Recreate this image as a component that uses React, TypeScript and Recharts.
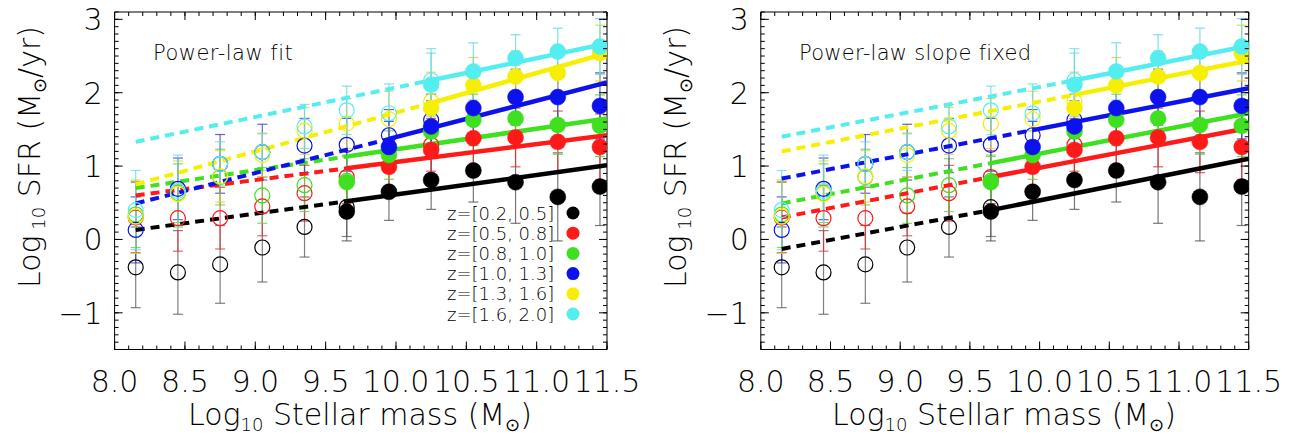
import { ScatterChart, Scatter, XAxis, YAxis, ErrorBar } from "recharts"

const _ = null

// stellar mass bins (log10 M)
const masses = [8.15, 8.45, 8.75, 9.05, 9.35, 9.65, 9.95, 10.25, 10.55, 10.85, 11.15, 11.45]
const xTickLabels = [8.0, 8.5, 9.0, 9.5, 10.0, 10.5, 11.0, 11.5]
const yTickLabels = [-1, 0, 1, 2, 3]

const zBins = ["z=[0.2, 0.5]", "z=[0.5, 0.8]", "z=[0.8, 1.0]", "z=[1.0, 1.3]", "z=[1.3, 1.6]", "z=[1.6, 2.0]"]
const binColors = ["#000000", "#ff1a1a", "#3ee020", "#0c12ee", "#f6ef00", "#55eef0"]
const errColors = ["#555555", "#e03030", "#5ccc40", "#3030d0", "#d8d030", "#60d8e0"]

// log SFR, open symbols (incomplete bins) / filled symbols
const openZ1 = [-0.38, -0.45, -0.34, -0.11, 0.17, 0.44, _, _, _, _, _, _]
const filledZ1 = [_, _, _, _, _, 0.38, 0.65, 0.81, 0.94, 0.78, 0.58, 0.72]
const errZ1 = [0.55, 0.57, 0.53, 0.47, 0.41, 0.4, 0.39, 0.4, 0.43, 0.56, 0.6, 0.53]

const openZ2 = [0.3, 0.29, 0.29, 0.45, 0.63, 0.85, _, 1.29, _, _, _, _]
const filledZ2 = [_, _, _, _, _, _, 0.99, 1.22, 1.38, 1.39, 1.33, 1.26]
const errZ2 = [0.48, 0.45, 0.42, 0.4, 0.38, 0.36, 0.35, 0.36, 0.38, 0.4, 0.42, 0.45]

const openZ3 = [0.34, 0.63, 0.85, 0.6, 0.74, 0.8, _, _, _, _, _, _]
const filledZ3 = [_, _, _, _, _, 0.78, 1.15, 1.47, 1.63, 1.65, 1.56, 1.55]
const errZ3 = [0.45, 0.4, 0.38, 0.38, 0.36, 0.35, 0.33, 0.33, 0.35, 0.37, 0.4, 0.42]

const openZ4 = [0.13, 0.69, 1.03, 1.19, 1.28, 1.29, 1.42, 1.63, _, _, _, _]
const filledZ4 = [_, _, _, _, _, _, 1.26, 1.54, 1.79, 1.94, 1.94, 1.82]
const errZ4 = [0.45, 0.42, 0.4, 0.38, 0.37, 0.36, 0.35, 0.35, 0.36, 0.38, 0.4, 0.45]

const openZ5 = [0.31, 0.62, 0.86, 1.15, 1.48, 1.58, 1.64, 1.88, _, _, _, _]
const filledZ5 = [_, _, _, _, _, _, _, 1.79, 2.1, 2.22, 2.27, 2.54]
const errZ5 = [0.5, 0.45, 0.35, 0.3, 0.32, 0.34, 0.38, 0.4, 0.38, 0.35, 0.35, 0.38]

const openZ6 = [0.4, 0.66, 1.03, 1.19, 1.54, 1.76, 1.72, 2.17, _, _, _, _]
const filledZ6 = [_, _, _, _, _, _, _, 2.11, 2.29, 2.47, 2.56, 2.63]
const errZ6 = [0.54, 0.49, 0.3, 0.25, 0.3, 0.33, 0.4, 0.43, 0.39, 0.32, 0.32, 0.38]

// fitted relations: dashed from fitStartMass to break, solid from break to fitEndMass
const fitStartMass = 8.15
const fitEndMass = 11.5
const fitBreakMass = [9.65, 9.65, 9.65, 9.95, 10.25, 10.25]
const freeFitStart = [0.13, 0.6, 0.7, 0.49, 0.75, 1.33]
const freeFitBreak = [0.52, 0.97, 1.13, 1.37, 1.86, 2.17]
const freeFitEnd = [1.01, 1.42, 1.65, 2.14, 2.54, 2.67]
const fixedFitStart = [-0.13, 0.3, 0.49, 0.83, 1.2, 1.4]
const fixedFitBreak = [0.4, 0.85, 1.04, 1.49, 1.97, 2.17]
const fixedFitEnd = [1.1, 1.52, 1.72, 2.06, 2.44, 2.64]

const openSets = [openZ1, openZ2, openZ3, openZ4, openZ5, openZ6]
const filledSets = [filledZ1, filledZ2, filledZ3, filledZ4, filledZ5, filledZ6]
const errSets = [errZ1, errZ2, errZ3, errZ4, errZ5, errZ6]

const FONT = "'DejaVu Sans', sans-serif"
const WEIGHT = 300
const INK = "#000000"
const H = 436
const PLOT_TOP = 12
const PLOT_BOTTOM = 349.5
const AX = 1 // thickness reserved per axis (axes with zero size are not drawn)

const xMinor = Array.from({ length: 36 }, (_v, i) => Math.round((8 + i * 0.1) * 10) / 10)
const yMinor = Array.from({ length: 47 }, (_v, i) => Math.round((-1.5 + i * 0.1) * 10) / 10)

function points(vals: (number | null)[], errs: number[]) {
  return masses
    .map((x, i) => ({ x, y: vals[i], err: errs[i] }))
    .filter((d) => d.y !== null)
}

const bottomMajor = (p: any) => (
  <g>
    <line x1={p.x} x2={p.x} y1={p.y} y2={p.y - 8} stroke={INK} />
    <text x={p.x} y={p.y + 42.5} textAnchor="middle" fontSize={30} fontWeight={WEIGHT} fontFamily={FONT} fill={INK}>
      {Number(p.payload.value).toFixed(1)}
    </text>
  </g>
)
const bottomMinor = (p: any) => <line x1={p.x} x2={p.x} y1={p.y - AX} y2={p.y - AX - 4} stroke={INK} />
const topMajor = (p: any) => <line x1={p.x} x2={p.x} y1={p.y} y2={p.y + 8} stroke={INK} />
const topMinor = (p: any) => <line x1={p.x} x2={p.x} y1={p.y + AX} y2={p.y + AX + 4} stroke={INK} />
const leftMajor = (p: any) => (
  <g>
    <line x1={p.x} x2={p.x + 8} y1={p.y} y2={p.y} stroke={INK} />
    <text x={p.x - 12} y={p.y + 11} textAnchor="end" fontSize={30} fontWeight={WEIGHT} fontFamily={FONT} fill={INK}>
      {p.payload.value < 0 ? `\u2212${Math.abs(p.payload.value)}` : p.payload.value}
    </text>
  </g>
)
const leftMinor = (p: any) => <line x1={p.x + AX} x2={p.x + AX + 4} y1={p.y} y2={p.y} stroke={INK} />
const rightMajor = (p: any) => <line x1={p.x} x2={p.x - 8} y1={p.y} y2={p.y} stroke={INK} />
const rightMinor = (p: any) => <line x1={p.x - AX} x2={p.x - AX - 4} y1={p.y} y2={p.y} stroke={INK} />

const noShape = () => <g />

interface PanelProps {
  width: number
  plotLeft: number
  plotRight: number
  fitStart: number[]
  fitBreak: number[]
  fitEnd: number[]
}

function Panel({ width, plotLeft, plotRight, fitStart, fitBreak, fitEnd }: PanelProps) {
  const axisCommon = {
    type: "number" as const,
    allowDataOverflow: true,
    tickSize: 0,
    tickMargin: 0,
    tickLine: false,
    interval: 0 as const,
  }
  const xDomain: [number, number] = [8, 11.5]
  const yDomain: [number, number] = [-1.5, 3.1]

  return (
    <ScatterChart
      width={width}
      height={H}
      margin={{
        top: PLOT_TOP - 2 * AX,
        bottom: H - PLOT_BOTTOM - 2 * AX,
        left: plotLeft - 2 * AX,
        right: width - plotRight - 2 * AX,
      }}
    >
      <XAxis xAxisId="b" dataKey="x" domain={xDomain} ticks={xTickLabels} height={AX} axisLine={{ stroke: INK }} tick={bottomMajor} {...axisCommon} />
      <XAxis xAxisId="bm" dataKey="x" domain={xDomain} ticks={xMinor} height={AX} axisLine={false} tick={bottomMinor} {...axisCommon} />
      <XAxis xAxisId="t" orientation="top" dataKey="x" domain={xDomain} ticks={xTickLabels} height={AX} axisLine={{ stroke: INK }} tick={topMajor} {...axisCommon} />
      <XAxis xAxisId="tm" orientation="top" dataKey="x" domain={xDomain} ticks={xMinor} height={AX} axisLine={false} tick={topMinor} {...axisCommon} />
      <YAxis yAxisId="l" dataKey="y" domain={yDomain} ticks={yTickLabels} width={AX} axisLine={{ stroke: INK }} tick={leftMajor} {...axisCommon} />
      <YAxis yAxisId="lm" dataKey="y" domain={yDomain} ticks={yMinor} width={AX} axisLine={false} tick={leftMinor} {...axisCommon} />
      <YAxis yAxisId="r" orientation="right" dataKey="y" domain={yDomain} ticks={yTickLabels} width={AX} axisLine={{ stroke: INK }} tick={rightMajor} {...axisCommon} />
      <YAxis yAxisId="rm" orientation="right" dataKey="y" domain={yDomain} ticks={yMinor} width={AX} axisLine={false} tick={rightMinor} {...axisCommon} />

      {binColors.map((c, i) => (
        <Scatter
          key={`dash${i}`}
          xAxisId="b"
          yAxisId="l"
          data={[
            { x: fitStartMass, y: fitStart[i] },
            { x: fitBreakMass[i], y: fitBreak[i] },
          ]}
          line={{ stroke: c, strokeWidth: 4, strokeDasharray: "9 6" }}
          shape={noShape}
          fill="none"
          isAnimationActive={false}
        />
      ))}
      {binColors.map((c, i) => (
        <Scatter
          key={`solid${i}`}
          xAxisId="b"
          yAxisId="l"
          data={[
            { x: fitBreakMass[i], y: fitBreak[i] },
            { x: fitEndMass, y: fitEnd[i] },
          ]}
          line={{ stroke: c, strokeWidth: 4.5 }}
          shape={noShape}
          fill="none"
          isAnimationActive={false}
        />
      ))}

      {binColors.map((c, i) => (
        <Scatter
          key={`open${i}`}
          xAxisId="b"
          yAxisId="l"
          data={points(openSets[i], errSets[i])}
          fill="none"
          shape={(p: any) => <circle cx={p.cx} cy={p.cy} r={7.5} fill="none" stroke={c} strokeWidth={1.2} />}
          isAnimationActive={false}
        >
          <ErrorBar dataKey="err" direction="y" width={5} stroke={errColors[i]} strokeWidth={1.2} strokeOpacity={0.75} isAnimationActive={false} />
        </Scatter>
      ))}
      {binColors.map((c, i) => (
        <Scatter
          key={`filled${i}`}
          xAxisId="b"
          yAxisId="l"
          data={points(filledSets[i], errSets[i])}
          fill={c}
          shape={(p: any) => <circle cx={p.cx} cy={p.cy} r={8} fill={c} stroke={c} strokeWidth={0.5} />}
          isAnimationActive={false}
        >
          <ErrorBar dataKey="err" direction="y" width={5} stroke={errColors[i]} strokeWidth={1.2} strokeOpacity={0.8} isAnimationActive={false} />
        </Scatter>
      ))}
    </ScatterChart>
  )
}

function YTitle({ x }: { x: number }) {
  return (
    <text transform={`translate(${x},157) rotate(-90)`} textAnchor="middle" fontSize={30} fontWeight={WEIGHT} fontFamily={FONT} fill={INK}>
      Log
      <tspan fontSize={18} dy={5}> 10</tspan>
      <tspan dy={-5}> SFR (M</tspan>
      <tspan fontSize={18} dy={6}>{"\u2299"}</tspan>
      <tspan dy={-6}>/yr)</tspan>
    </text>
  )
}

function XTitle({ x }: { x: number }) {
  return (
    <text x={x} y={425} textAnchor="middle" fontSize={30} fontWeight={WEIGHT} fontFamily={FONT} fill={INK}>
      Log
      <tspan fontSize={18} dy={6}>10</tspan>
      <tspan dy={-6}> Stellar mass (M</tspan>
      <tspan fontSize={18} dy={6}>{"\u2299"}</tspan>
      <tspan dy={-6}>)</tspan>
    </text>
  )
}

export default function App() {
  const rightOffset = 645
  return (
    <div style={{ position: "absolute", left: 0, top: 0, width: 1291, height: H, background: "#fff" }}>
      <div style={{ position: "absolute", left: 0, top: 0 }}>
        <Panel width={640} plotLeft={114.6} plotRight={607} fitStart={freeFitStart} fitBreak={freeFitBreak} fitEnd={freeFitEnd} />
      </div>
      <div style={{ position: "absolute", left: rightOffset, top: 0 }}>
        <Panel
          width={646}
          plotLeft={760.8 - rightOffset}
          plotRight={1248.7 - rightOffset}
          fitStart={fixedFitStart}
          fitBreak={fixedFitBreak}
          fitEnd={fixedFitEnd}
        />
      </div>
      <svg width={1291} height={H} style={{ position: "absolute", left: 0, top: 0, pointerEvents: "none" }}>
        <YTitle x={40} />
        <YTitle x={686} />
        <XTitle x={360} />
        <XTitle x={1004} />
        <text x={153} y={60} fontSize={21} fontWeight={WEIGHT} fontFamily={FONT} fill={INK} letterSpacing={0.5}>
          Power-law fit
        </text>
        <text x={799} y={60} fontSize={21} fontWeight={WEIGHT} fontFamily={FONT} fill={INK} letterSpacing={0.3}>
          Power-law slope fixed
        </text>
        {zBins.map((label, i) => (
          <g key={label}>
            <text x={447} y={219.5 + i * 20.2} fontSize={18} fontWeight={WEIGHT} fontFamily={FONT} fill={INK}>
              {label}
            </text>
            <circle cx={573} cy={213 + i * 20.2} r={6.5} fill={binColors[i]} />
          </g>
        ))}
      </svg>
    </div>
  )
}
